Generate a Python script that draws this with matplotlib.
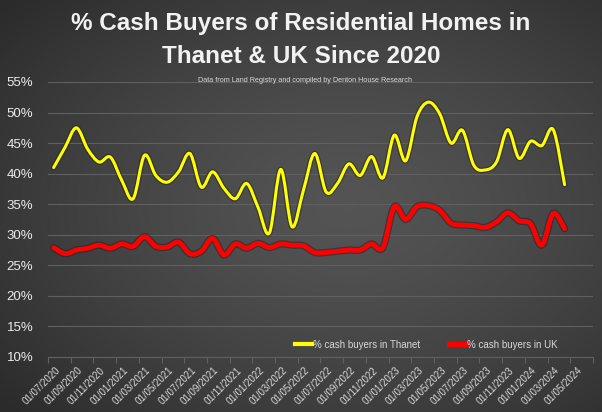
"""
Cash buyers chart: Thanet vs UK, monthly, smoothed lines on dark background.
"""
import numpy as np
import matplotlib
matplotlib.use('Agg')
import matplotlib.pyplot as plt
import matplotlib.patheffects as pe
from matplotlib.path import Path
from matplotlib.patches import PathPatch
from matplotlib.lines import Line2D

FONT = ['Liberation Sans', 'DejaVu Sans']
TXT = '#d9d9d9'
GRID = '#606060'
YELLOW = '#ffff00'
RED = '#ff0000'

# monthly observations, 07/2020 .. 04/2024
months = ['07/2020', '08/2020', '09/2020', '10/2020', '11/2020', '12/2020',
          '01/2021', '02/2021', '03/2021', '04/2021', '05/2021', '06/2021',
          '07/2021', '08/2021', '09/2021', '10/2021', '11/2021', '12/2021',
          '01/2022', '02/2022', '03/2022', '04/2022', '05/2022', '06/2022',
          '07/2022', '08/2022', '09/2022', '10/2022', '11/2022', '12/2022',
          '01/2023', '02/2023', '03/2023', '04/2023', '05/2023', '06/2023',
          '07/2023', '08/2023', '09/2023', '10/2023', '11/2023', '12/2023',
          '01/2024', '02/2024', '03/2024', '04/2024']

thanet = [41.0, 44.3, 47.5, 44.0, 41.9, 42.7, 38.9, 35.9, 43.0, 39.7,
          38.6, 40.3, 43.3, 37.8, 40.3, 37.6, 35.9, 38.4, 34.5, 30.3,
          40.7, 31.3, 37.3, 43.3, 37.0, 38.4, 41.6, 39.7, 42.8, 39.3,
          46.3, 42.1, 49.3, 51.7, 49.8, 45.0, 47.1, 41.4, 40.6, 41.9,
          47.2, 42.5, 45.3, 44.6, 47.2, 38.2]

uk = [27.9, 26.9, 27.5, 27.8, 28.3, 27.8, 28.5, 28.1, 29.7, 28.1,
      28.0, 28.8, 26.9, 27.3, 29.4, 26.7, 28.5, 27.8, 28.6, 27.9,
      28.5, 28.3, 28.2, 27.1, 27.1, 27.3, 27.5, 27.5, 28.5, 27.9,
      34.6, 32.5, 34.6, 34.8, 34.0, 31.9, 31.6, 31.5, 31.2, 32.1,
      33.6, 32.3, 31.8, 28.3, 33.5, 31.0]

tick_labels = ['01/07/2020', '01/09/2020', '01/11/2020', '01/01/2021', '01/03/2021',
               '01/05/2021', '01/07/2021', '01/09/2021', '01/11/2021', '01/01/2022',
               '01/03/2022', '01/05/2022', '01/07/2022', '01/09/2022', '01/11/2022',
               '01/01/2023', '01/03/2023', '01/05/2023', '01/07/2023', '01/09/2023',
               '01/11/2023', '01/01/2024', '01/03/2024', '01/05/2024']

y_ticks = [10, 15, 20, 25, 30, 35, 40, 45, 50, 55]


def smooth_path(xs, ys):
    """Excel-style smoothed line: Catmull-Rom through the points as bezier curves."""
    pts = np.column_stack([xs, ys])
    n = len(pts)
    verts = [pts[0]]
    codes = [Path.MOVETO]
    for i in range(n - 1):
        p0 = pts[max(i - 1, 0)]
        p1 = pts[i]
        p2 = pts[i + 1]
        p3 = pts[min(i + 2, n - 1)]
        c1 = p1 + (p2 - p0) / 6.0
        c2 = p2 - (p3 - p1) / 6.0
        verts += [c1, c2, p2]
        codes += [Path.CURVE4] * 3
    return Path(verts, codes)


fig = plt.figure(figsize=(6.02, 4.12), dpi=100)

# radial grey background
bg = fig.add_axes([0, 0, 1, 1], zorder=-5)
gx, gy = np.meshgrid(np.linspace(0, 1, 300), np.linspace(0, 1, 200))
r = np.sqrt(((gx - 0.58) / 0.75) ** 2 + ((gy - 0.5) / 0.75) ** 2)
shade = np.clip(0.33 - 0.16 * r ** 1.4, 0.17, 0.35)
bg.imshow(np.dstack([shade] * 3), extent=[0, 1, 0, 1], aspect='auto', origin='lower')
bg.axis('off')

ax = fig.add_axes([0.0797, 0.1335, 0.9053, 0.6675])
ax.set_facecolor('none')

x = np.arange(len(months)) + 0.5
shadow = [pe.Stroke(linewidth=4.0, foreground='#202020', alpha=0.5), pe.Normal()]
ax.add_patch(PathPatch(smooth_path(x, thanet), fill=False, edgecolor=YELLOW,
                       linewidth=2.2, capstyle='round', joinstyle='round',
                       path_effects=shadow, zorder=3))
shadow_r = [pe.Stroke(linewidth=5.2, foreground='#202020', alpha=0.5), pe.Normal()]
ax.add_patch(PathPatch(smooth_path(x, uk), fill=False, edgecolor=RED,
                       linewidth=3.4, capstyle='round', joinstyle='round',
                       path_effects=shadow_r, zorder=3))

ax.set_xlim(0, 48)
ax.set_ylim(10, 55)
ax.set_yticks(y_ticks)
ax.set_yticklabels([f'{v}%' for v in y_ticks], fontsize=9.5, color='#ececec', family=FONT)
ax.tick_params(axis='y', length=0, pad=10.5)
ax.grid(axis='y', color=GRID, linewidth=0.8)
ax.set_axisbelow(True)

# tick marks every two months, labels slightly to the right of each mark
ax.set_xticks(np.arange(0, 49, 2))
ax.set_xticklabels([])
ax.tick_params(axis='x', which='major', length=4, color=GRID, width=0.8)
ax.set_xticks(np.arange(0, 48, 2) + 0.6, minor=True)
ax.set_xticklabels(tick_labels, minor=True, rotation=45, ha='right',
                   rotation_mode='anchor', fontsize=7, color=TXT, family=FONT)
ax.tick_params(axis='x', which='minor', length=0, pad=6)

for s in ['top', 'right', 'left']:
    ax.spines[s].set_visible(False)
ax.spines['bottom'].set_color(GRID)
ax.spines['bottom'].set_linewidth(0.8)

handles = [Line2D([], [], color=YELLOW, linewidth=3),
           Line2D([], [], color=RED, linewidth=3.5)]
ax.legend(handles, ['% cash buyers in Thanet', '% cash buyers in UK'],
          loc='center', bbox_to_anchor=(0.694, 0.045), ncol=2, frameon=False,
          handlelength=1.7, handletextpad=0.1, columnspacing=3.0,
          prop={'family': FONT, 'size': 7}, labelcolor=TXT)

fig.text(0.5, 0.942, '% Cash Buyers of Residential Homes in', ha='center', va='center',
         fontsize=17.5, fontweight='bold', color='#f2f2f2', family=FONT)
fig.text(0.5, 0.862, 'Thanet & UK Since 2020', ha='center', va='center',
         fontsize=17.5, fontweight='bold', color='#f2f2f2', family=FONT)
fig.text(0.507, 0.805, 'Data from Land Registry and compiled by Denton House Research',
         ha='center', va='center', fontsize=5.2, color=TXT, family=FONT)

fig.savefig('out.png', dpi=100)
